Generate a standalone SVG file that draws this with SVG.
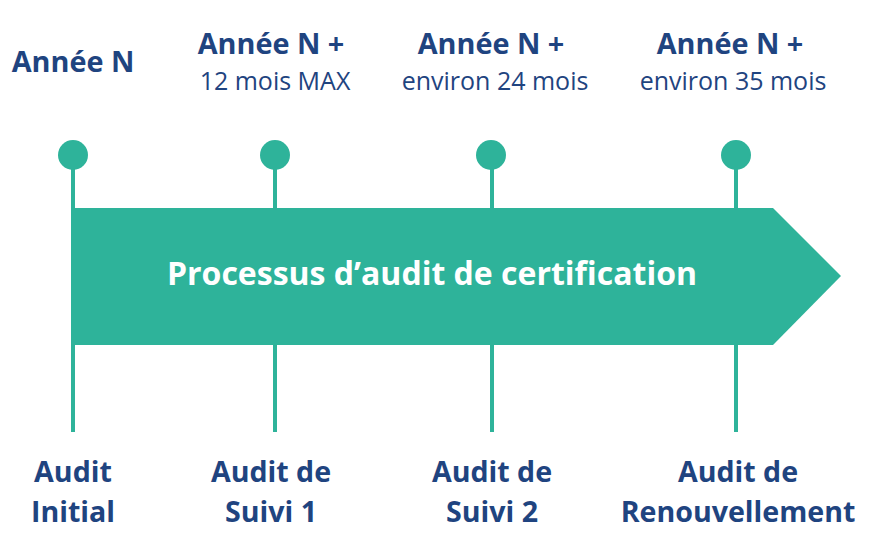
<svg xmlns="http://www.w3.org/2000/svg" width="880" height="542" viewBox="0 0 880 542">
<style>
.t{font-family:"Open Sans","Noto Sans",sans-serif;fill:#1f4480;text-anchor:middle}
.b{font-weight:700;font-size:28.8px}
.r{font-weight:400;font-size:25px}
.l{font-weight:700;font-size:28.6px}
.stem{stroke:#2eb39a;stroke-width:4;fill:none}
.dot{fill:#2eb39a}
</style>
<rect width="880" height="542" fill="#fff"/>
<g id="connectors">
<line class="stem" x1="73" y1="155" x2="73" y2="432"/>
<line class="stem" x1="275" y1="155" x2="275" y2="432"/>
<line class="stem" x1="492" y1="155" x2="492" y2="432"/>
<line class="stem" x1="736" y1="155" x2="736" y2="432"/>
</g>
<g id="arrow">
<polygon points="73,208 773,208 841,276 773,345 73,345" fill="#2eb39a"/>
<text x="432" y="285" font-family="'Open Sans','Noto Sans',sans-serif" font-weight="700" font-size="32" fill="#fff" text-anchor="middle">Processus d’audit de certification</text>
</g>
<g id="n0">
<circle class="dot" cx="73" cy="155" r="15"/>
<text class="t b" x="73" y="72">Année N</text>
<text class="t l" x="73" y="482">Audit</text>
<text class="t l" x="73" y="522">Initial</text>
</g>
<g id="n1">
<circle class="dot" cx="275" cy="155" r="15"/>
<text class="t b" x="271" y="54">Année N +</text>
<text class="t r" x="275" y="90">12 mois MAX</text>
<text class="t l" x="271" y="482">Audit de</text>
<text class="t l" x="271" y="522">Suivi 1</text>
</g>
<g id="n2">
<circle class="dot" cx="491" cy="155" r="15"/>
<text class="t b" x="491" y="54">Année N +</text>
<text class="t r" x="495" y="90">environ 24 mois</text>
<text class="t l" x="492" y="482">Audit de</text>
<text class="t l" x="492" y="522">Suivi 2</text>
</g>
<g id="n3">
<circle class="dot" cx="736" cy="155" r="15"/>
<text class="t b" x="730" y="54">Année N +</text>
<text class="t r" x="733" y="90">environ 35 mois</text>
<text class="t l" x="738" y="482">Audit de</text>
<text class="t l" x="738" y="522">Renouvellement</text>
</g>
</svg>
